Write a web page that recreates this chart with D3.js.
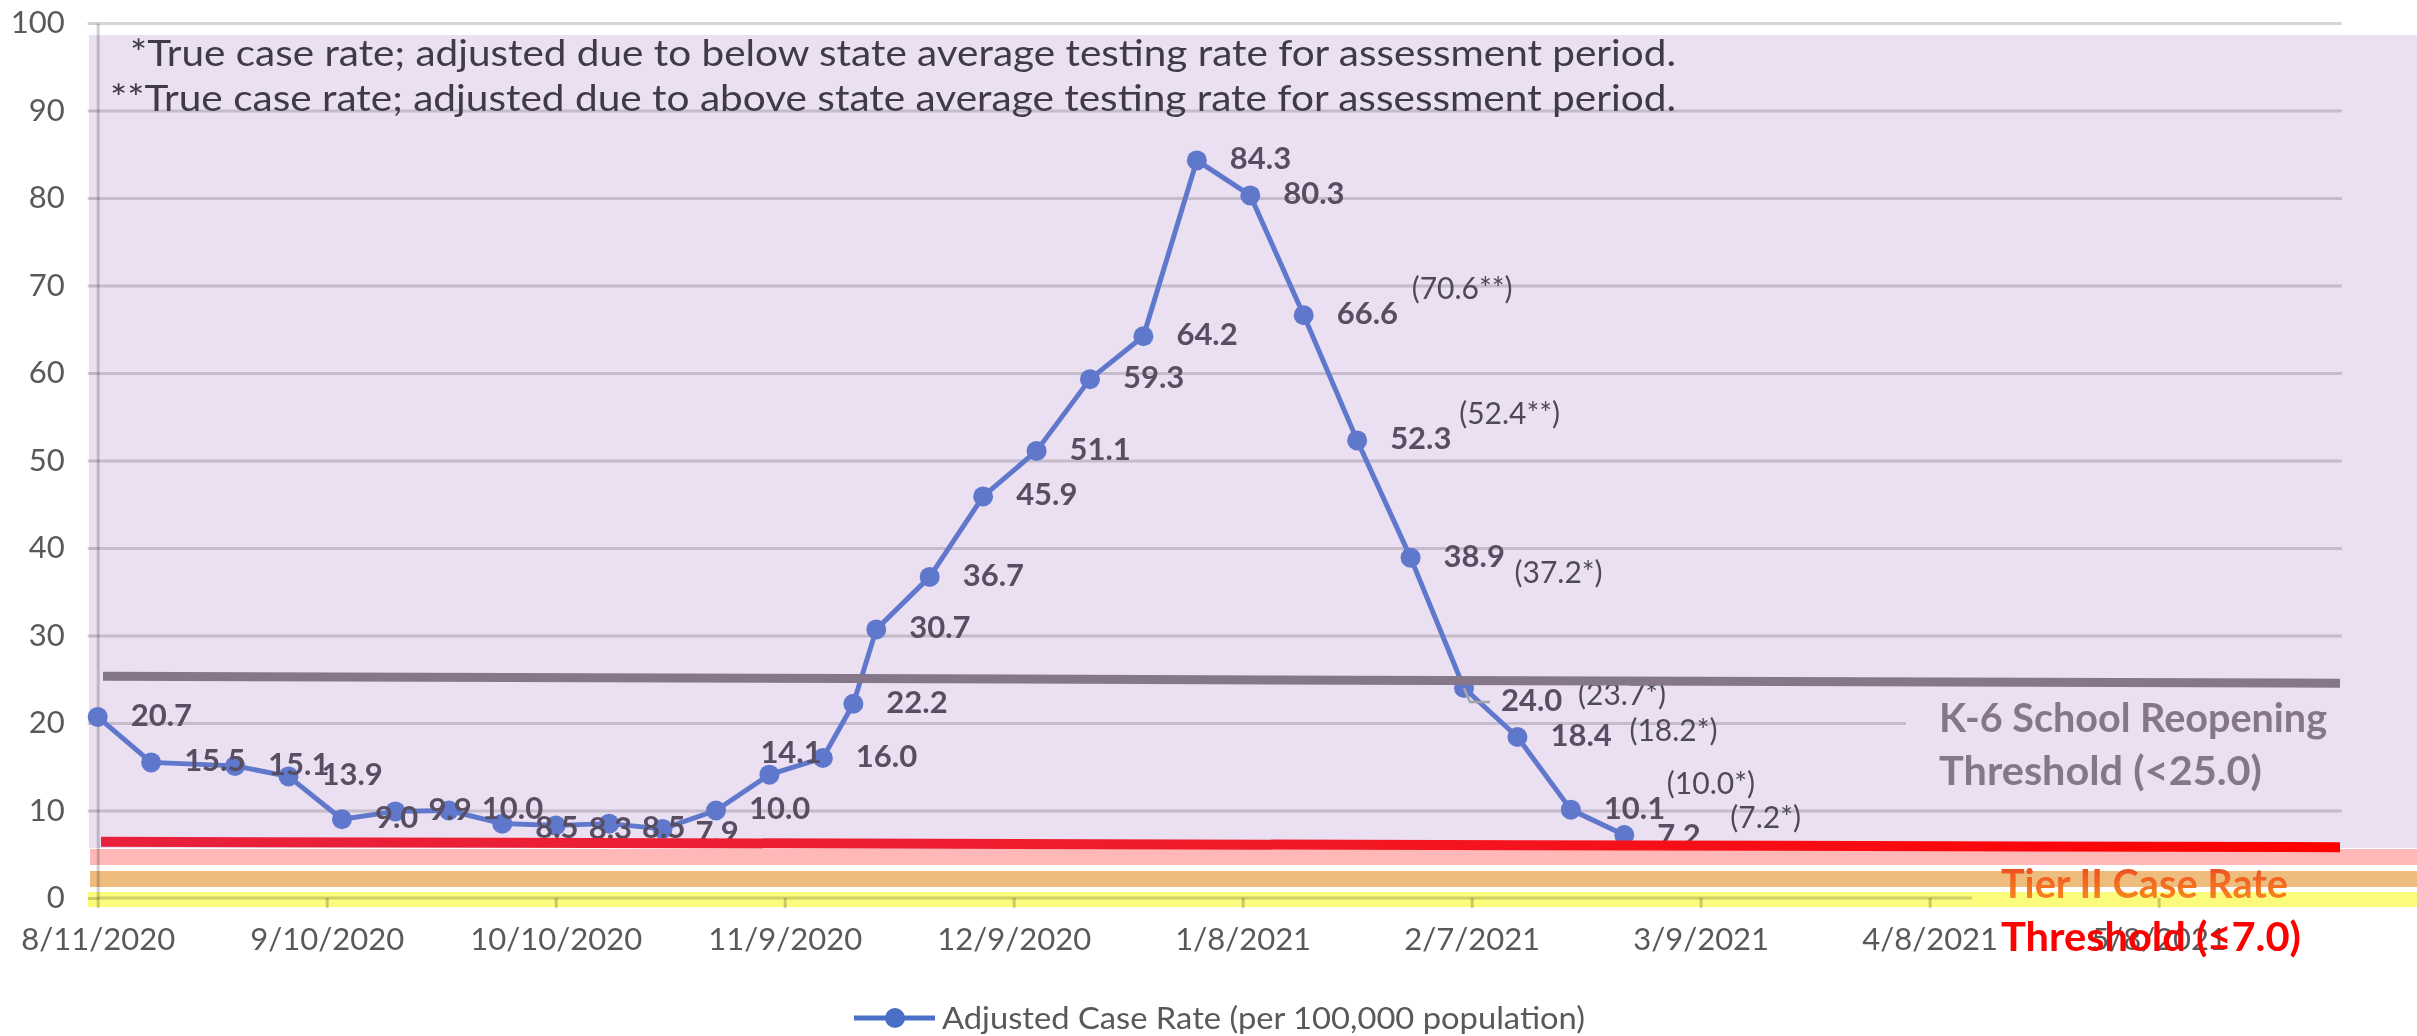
<!DOCTYPE html>
<html><head><meta charset="utf-8">
<script src="https://cdn.jsdelivr.net/npm/d3@7"></script>
<style>
html,body{margin:0;padding:0;background:#fff;}
svg{display:block;font-family:Lato,"Open Sans",sans-serif;}
</style></head><body>
<svg id="chart" width="2417" height="1036"></svg>
<script>
// ---------------- data ----------------
const dates = ["2020-08-11","2020-08-18","2020-08-29","2020-09-05","2020-09-12","2020-09-19","2020-09-26",
  "2020-10-03","2020-10-10","2020-10-17","2020-10-24","2020-10-31","2020-11-07","2020-11-14","2020-11-18",
  "2020-11-21","2020-11-28","2020-12-05","2020-12-12","2020-12-19","2020-12-26","2021-01-02","2021-01-09",
  "2021-01-16","2021-01-23","2021-01-30","2021-02-06","2021-02-13","2021-02-20","2021-02-27"];
const adjustedRate = [20.7,15.5,15.1,13.9,9.0,9.9,10.0,8.5,8.3,8.5,7.9,10.0,14.1,16.0,22.2,
  30.7,36.7,45.9,51.1,59.3,64.2,84.3,80.3,66.6,52.3,38.9,24.0,18.4,10.1,7.2];
const trueRateDates = ["2021-01-16","2021-01-23","2021-01-30","2021-02-06","2021-02-13","2021-02-20","2021-02-27"];
const trueRate = [70.6,52.4,37.2,23.7,18.2,10.0,7.2];
const trueRateMark = ["**","**","*","*","*","*","*"];
const xTickDates = ["2020-08-11","2020-09-10","2020-10-10","2020-11-09","2020-12-09","2021-01-08",
  "2021-02-07","2021-03-09","2021-04-08","2021-05-08"];
const yTicks = [0,10,20,30,40,50,60,70,80,90,100];
const reopeningThreshold = 25.0;
const tierIIThreshold = 7.0;
const seriesName = "Adjusted Case Rate (per 100,000 population)";
const notes = [
  "*True case rate; adjusted due to below state average testing rate for assessment period.",
  "**True case rate; adjusted due to above state average testing rate for assessment period."
];
const reopeningLabel = ["K-6 School Reopening","Threshold (<25.0)"];
const tierLabel = ["Tier II Case Rate","Threshold (\u22647.0)"];

// ---------------- layout ----------------
const parse = d3.utcParse("%Y-%m-%d");
const fmt = d3.utcFormat("%-m/%-d/%Y");
const svg = d3.select("#chart");
const X0 = 97.7, X1 = 2341.8;
const x = d3.scaleUtc().domain([parse("2020-08-11"), parse("2021-06-01")]).range([X0, X1]);
const y = d3.scaleLinear().domain([0,100]).range([898, 23]);
const pts = dates.map((d,i)=>({date:parse(d), v:adjustedRate[i], i}));

// label offsets (layout only)
const labelAdj = {7:[0,5],8:[0,5],9:[0,5],10:[0,5],12:[-42,-21],26:[4,14],29:[0,2]};
const trueAdj = [[108,-24],[102,-24],[104,18],[114,9],[112,-4],[96,-23],[106,-15]];

const defs = svg.append("defs");
const gRed = defs.append("linearGradient").attr("id","redLine").attr("x1",0).attr("x2",1).attr("y1",0).attr("y2",0);
gRed.append("stop").attr("offset","0").attr("stop-color","#e8203c");
gRed.append("stop").attr("offset","0.45").attr("stop-color","#ef1c2c");
gRed.append("stop").attr("offset","1").attr("stop-color","#ff0000");
const gTier = defs.append("linearGradient").attr("id","tierText").attr("x1",0).attr("x2",0).attr("y1",0).attr("y2",1);
gTier.append("stop").attr("offset","0").attr("stop-color","#ef3e24");
gTier.append("stop").attr("offset","1").attr("stop-color","#f7961c");

// background
svg.append("rect").attr("x",89).attr("y",35).attr("width",2417-89).attr("height",848-35).attr("fill","#ebdff2");

// gridlines
const grid = svg.append("g").attr("transform",`translate(${X0},0)`)
  .call(d3.axisLeft(y).tickValues(yTicks).tickSize(-(X1-X0)).tickFormat(""));
grid.select(".domain").remove();
grid.selectAll("line").attr("stroke","#d6d6d6").attr("stroke-width",3).style("mix-blend-mode","multiply");

// backdrop of the reopening label
svg.append("rect").attr("x",1906).attr("y",690).attr("width",X1+4-1906).attr("height",110).attr("fill","#ebdff2");

// bands
svg.append("rect").attr("x",90).attr("y",849).attr("width",2417-90).attr("height",16).attr("fill","#ffb7b7");
svg.append("rect").attr("x",90).attr("y",871).attr("width",2417-90).attr("height",16).attr("fill","#eebd7e");
svg.append("rect").attr("x",88).attr("y",892).attr("width",2417-88).attr("height",15).attr("fill","#fcfc7c");

// y axis
const yAxis = svg.append("g").attr("transform",`translate(${X0},0)`)
  .call(d3.axisLeft(y).tickValues(yTicks).tickSize(10).tickSizeOuter(0).tickPadding(23));
yAxis.select(".domain").attr("stroke","#cfcfcf").attr("stroke-width",3).style("mix-blend-mode","multiply");
yAxis.selectAll(".tick line").attr("stroke","#d0d0d0").attr("stroke-width",3).style("mix-blend-mode","multiply");
yAxis.selectAll("text").attr("font-size",31).attr("fill","#595959").attr("font-family","Lato");

// x axis
const xAxis = svg.append("g").attr("transform","translate(0,898)")
  .call(d3.axisBottom(x).tickValues(xTickDates.map(parse)).tickFormat(fmt).tickSize(10).tickSizeOuter(0).tickPadding(20));
xAxis.select(".domain").remove();
xAxis.selectAll(".tick line").attr("stroke","#cdcdcd").attr("stroke-width",3).style("mix-blend-mode","multiply");
xAxis.selectAll("text").attr("font-size",31).attr("fill","#595959").attr("font-family","Lato");
svg.append("line").attr("x1",X0).attr("x2",1972).attr("y1",y(0)).attr("y2",y(0))
  .attr("stroke","#d2d2d2").attr("stroke-width",3).style("mix-blend-mode","multiply");

// series
const line = d3.line().x(d=>x(d.date)).y(d=>y(d.v));
svg.append("path").datum(pts).attr("d",line).attr("fill","none").attr("stroke","#6078cc").attr("stroke-width",5).attr("stroke-linejoin","round");
svg.append("g").selectAll("circle").data(pts).join("circle")
  .attr("cx",d=>x(d.date)).attr("cy",d=>y(d.v)).attr("r",10).attr("fill","#6078cc");

// leader line for 24.0
const p24 = pts[26];
svg.append("path").attr("d",`M${x(p24.date)},${y(p24.v)} l6,14 l20,0`).attr("fill","none").attr("stroke","#a5a5a5").attr("stroke-width",2.5);

// data labels
svg.append("g").selectAll("text").data(pts).join("text")
  .attr("x",d=>x(d.date)+33+(labelAdj[d.i]?labelAdj[d.i][0]:0))
  .attr("y",d=>y(d.v)+1+(labelAdj[d.i]?labelAdj[d.i][1]:0))
  .attr("dominant-baseline","middle")
  .attr("font-size",31).attr("font-weight",700).attr("fill","#574e61")
  .text(d=>d.v.toFixed(1));

// true rate labels
const tpts = trueRateDates.map((d,i)=>{
  const dt = parse(d); const p = pts.find(q=>+q.date===+dt);
  return {date:dt, v:p.v, t:trueRate[i], m:trueRateMark[i], i};
});
svg.append("g").selectAll("text").data(tpts).join("text")
  .attr("x",d=>x(d.date)+trueAdj[d.i][0]).attr("y",d=>y(d.v)+trueAdj[d.i][1])
  .attr("dominant-baseline","middle")
  .attr("font-size",30).attr("fill","#4d4956")
  .text(d=>`(${d.t.toFixed(1)}${d.m})`);

// threshold lines
svg.append("line").attr("x1",103).attr("x2",2340)
  .attr("y1",y(reopeningThreshold)-3).attr("y2",y(reopeningThreshold)+4)
  .attr("stroke","#857789").attr("stroke-width",9);
svg.append("line").attr("x1",101).attr("x2",2340)
  .attr("y1",y(tierIIThreshold)+5).attr("y2",y(tierIIThreshold)+10.5)
  .attr("stroke","url(#redLine)").attr("stroke-width",10);

// threshold labels
svg.append("text").attr("x",1939).attr("y",732).attr("font-size",40).attr("font-weight",700).attr("fill","#857789")
  .attr("textLength",388).attr("lengthAdjust","spacingAndGlyphs").text(reopeningLabel[0]);
svg.append("text").attr("x",1939).attr("y",785).attr("font-size",40).attr("font-weight",700).attr("fill","#857789")
  .attr("textLength",323).attr("lengthAdjust","spacingAndGlyphs").text(reopeningLabel[1]);
svg.append("text").attr("x",2001).attr("y",898).attr("font-size",40).attr("font-weight",700).attr("fill","url(#tierText)")
  .attr("textLength",287).attr("lengthAdjust","spacingAndGlyphs").text(tierLabel[0]);
svg.append("text").attr("x",2001).attr("y",951).attr("font-size",40).attr("font-weight",700).attr("fill","#ff0000")
  .attr("textLength",300).attr("lengthAdjust","spacingAndGlyphs").text(tierLabel[1]);

// notes
svg.append("text").attr("x",130).attr("y",66).attr("font-size",37).attr("fill","#3e3b46")
  .attr("textLength",1546).attr("lengthAdjust","spacingAndGlyphs").text(notes[0]);
svg.append("text").attr("x",110).attr("y",111).attr("font-size",37).attr("fill","#3e3b46")
  .attr("textLength",1566).attr("lengthAdjust","spacingAndGlyphs").text(notes[1]);

// legend
const lg = svg.append("g");
lg.append("line").attr("x1",854).attr("x2",935).attr("y1",1018).attr("y2",1018).attr("stroke","#4a6fc6").attr("stroke-width",5);
lg.append("circle").attr("cx",895).attr("cy",1018).attr("r",10).attr("fill","#4a6fc6");
lg.append("text").attr("x",942).attr("y",1029).attr("font-size",31).attr("fill","#595959")
  .attr("textLength",643).attr("lengthAdjust","spacingAndGlyphs").text(seriesName);
</script>
</body></html>
